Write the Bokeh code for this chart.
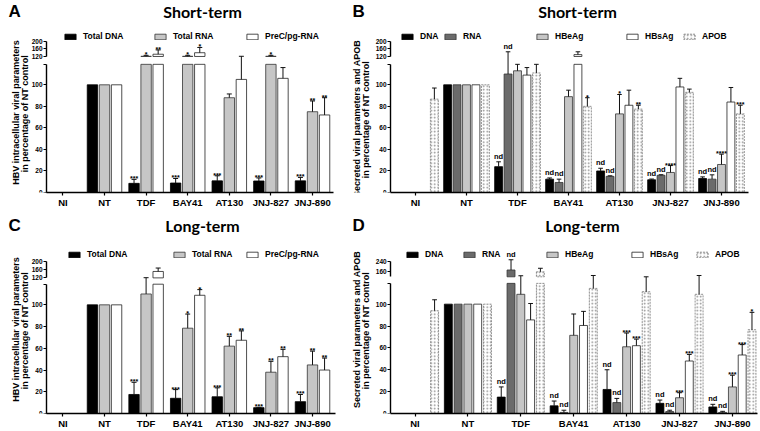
import numpy as np
from bokeh.plotting import figure
from bokeh.models import (Range1d, FixedTicker, CustomJSTickFormatter, Label,
                          Legend, LegendItem, LinearAxis)
from bokeh.layouts import column, row
from bokeh.embed import file_html
from bokeh.resources import INLINE
from bokeh.core.properties import value

categories = ["NI", "NT", "TDF", "BAY41", "AT130", "JNJ-827", "JNJ-890"]

# ---- Panel A : short-term, intracellular ----
a_names = ["Total DNA", "Total RNA", "PreC/pg-RNA"]
a_dna = [0, 100, 8.5, 8.8, 10.8, 10.7, 10.8]
a_dna_err = [0, 0, 12.2, 13.0, 15.5, 13.5, 14.0]
a_dna_sig = ["", "", "***", "***", "***", "***", "***"]
a_rna = [0, 100, 121, 121, 88, 121, 75]
a_rna_err = [0, 0, 126, 126, 91.5, 126, 85]
a_rna_sig = ["", "", "*", "*", "", "*", "**"]
a_pre = [0, 100, 132, 140, 105, 106, 72]
a_pre_err = [0, 0, 155, 168, 121, 116, 88]
a_pre_sig = ["", "", "**", "*", "", "", "**"]

# ---- Panel B : short-term, secreted ----
b_names = ["DNA", "RNA", "HBeAg", "HBsAg", "APOB"]
b_dna = [0, 100, 24, 12.4, 20, 11.8, 13]
b_dna_err = [0, 0, 28.5, 13.5, 22.5, 12.5, 14.5]
b_dna_sig = ["", "", "nd", "nd", "nd", "nd", "nd"]
b_rna = [0, 100, 110, 9.3, 15, 16, 12.4]
b_rna_err = [0, 0, 145, 12.4, 15.5, 16.5, 16.4]
b_rna_sig = ["", "", "nd", "nd", "nd", "nd", "nd"]
b_hbe = [0, 100, 113, 89, 73, 18.6, 26]
b_hbe_err = [0, 0, 119, 95, 91, 25, 35.6]
b_hbe_sig = ["", "", "", "", "*", "****", "****"]
b_hbs = [0, 100, 109, 130, 81, 98, 84]
b_hbs_err = [0, 0, 116, 145, 95, 106, 97.5]
b_hbs_sig = ["", "", "", "", "", "", ""]
b_apob = [86.7, 100, 111, 80, 77.4, 93, 73]
b_apob_err = [97, 0, 119, 88, 81, 96, 81]
b_apob_sig = ["", "", "", "*", "**", "", "***"]

# ---- Panel C : long-term, intracellular ----
c_dna = [0, 100, 17.5, 14, 15.4, 5.4, 10.9]
c_dna_err = [0, 0, 28.7, 22, 23.6, 5.6, 17.5]
c_dna_sig = ["", "", "***", "***", "***", "***", "***"]
c_rna = [0, 100, 110, 78.5, 62, 38, 44.7]
c_rna_err = [0, 0, 121, 91.5, 71, 48, 57.4]
c_rna_sig = ["", "", "", "*", "**", "**", "**"]
c_pre = [0, 100, 152, 108.8, 67.4, 52.3, 40]
c_pre_err = [0, 0, 169, 114, 76, 59, 51]
c_pre_sig = ["", "", "", "*", "**", "**", "**"]

# ---- Panel D : long-term, secreted ----
d_dna = [0, 100, 15, 7, 22, 9.3, 6]
d_dna_err = [0, 0, 24.3, 11.4, 40, 12.3, 8.4]
d_dna_sig = ["", "", "nd", "nd", "nd", "nd", "nd"]
d_rna = [0, 100, 172, 1, 10, 1.8, 1]
d_rna_err = [0, 0, 250, 3, 13.8, 3, 2]
d_rna_sig = ["", "", "nd", "nd", "nd", "nd", "nd"]
d_hbe = [0, 100, 109, 71.5, 61, 14.4, 24.3]
d_hbe_err = [0, 0, 128, 91, 73.6, 19, 35]
d_hbe_sig = ["", "", "", "", "***", "***", "***"]
d_hbs = [0, 100, 85.6, 80.5, 62, 48, 53.5]
d_hbs_err = [0, 0, 100.6, 93.4, 68, 54, 63]
d_hbs_sig = ["", "", "", "", "***", "***", "***"]
d_apob = [94, 100, 158, 114.4, 111.4, 109, 76.6]
d_apob_err = [104, 0, 185, 130, 120, 130, 92.5]
d_apob_sig = ["", "", "", "", "", "", "*"]

lower_ticks = [0, 20, 40, 60, 80, 100]
upper_ticks_abc = [120, 160, 200]
upper_ticks_d = [160, 240]

FR = "Liberation Sans"

ST_DNA = dict(fill_color="black", line_color="black")
ST_LG = dict(fill_color="#c6c6c6", line_color="#333333")
ST_WH = dict(fill_color="white", line_color="#222222")
ST_DG = dict(fill_color="#6b6b6b", line_color="#333333")
ST_AP = dict(fill_color="white", line_color="#777777", line_dash="2 1",
             hatch_pattern=".", hatch_color="#8a8a8a", hatch_scale=3.5, hatch_weight=1)


def brk(v, lim, u0, k):
    v = np.asarray(v, dtype=float)
    return np.where(v <= lim, v, np.where(v < 120, lim, u0 + (v - 120) * k))


def style_yaxis(ax):
    ax.axis_line_color = "black"
    ax.axis_line_width = 1.4
    ax.major_tick_out = 3
    ax.major_tick_in = 0
    ax.minor_tick_out = 0
    ax.minor_tick_in = 0
    ax.major_tick_line_width = 1.2
    ax.major_label_standoff = 1
    ax.major_label_text_font = FR
    ax.major_label_text_font_size = "6.5px"
    ax.major_label_text_font_style = "bold"
    ax.major_label_text_color = "black"


def build(cfg):
    lim, u0, k = cfg["brk"]
    B = lambda v: brk(v, lim, u0, k)
    p = figure(width=cfg["w"], height=cfg["h"], output_backend="svg",
               toolbar_location=None, title=None,
               x_range=Range1d(*cfg["xr"]), y_range=Range1d(0, cfg["ytop"]),
               min_border_left=0, min_border_right=0,
               min_border_top=0, min_border_bottom=cfg["bb"])
    p.outline_line_color = None
    p.xgrid.visible = False
    p.ygrid.visible = False
    p.background_fill_color = "white"
    p.border_fill_color = "white"

    idx = np.arange(len(categories), dtype=float)
    renderers = []
    for j, (vals, errs, sigs) in enumerate(cfg["series"]):
        st = cfg["styles"][j]
        xs = idx + cfg["offs"][j]
        v = np.asarray(vals, dtype=float)
        r = p.vbar(x=xs, bottom=0, top=np.minimum(v, lim), width=cfg["bw"],
                   line_width=0.8, **st)
        renderers.append(r)
        up = v > 120
        if up.any():
            p.vbar(x=xs[up], bottom=u0, top=B(v[up]), width=cfg["bw"],
                   line_width=0.8, **st)
        e = np.asarray(errs, dtype=float)
        has = e > v
        if has.any():
            p.segment(x0=xs[has], y0=B(v[has]), x1=xs[has], y1=B(e[has]),
                      line_color="#111111", line_width=1)
            p.segment(x0=xs[has] - cfg["cw"], y0=B(e[has]),
                      x1=xs[has] + cfg["cw"], y1=B(e[has]),
                      line_color="#111111", line_width=1)
        tops = np.where(has, B(e), B(v))
        sig = np.array(sigs, dtype=object)
        stars = np.array([s not in ("", "nd") for s in sigs])
        nds = np.array([s == "nd" for s in sigs])
        if stars.any():
            p.text(x=xs[stars], y=tops[stars], text=list(sig[stars]),
                   text_align="center", text_baseline="bottom", y_offset=3,
                   text_font=value(FR), text_font_size="7px",
                   text_font_style="bold", text_color="black")
        if nds.any():
            p.text(x=xs[nds], y=tops[nds], text=list(sig[nds]),
                   text_align="center", text_baseline="bottom", y_offset=-1,
                   text_font=value(FR), text_font_size="7.5px",
                   text_font_style="bold", text_color="black")

    xa = cfg["yaxis_x"]
    # x axis (line limited to the plotted span)
    xax = p.xaxis[0]
    xax.bounds = (xa, cfg["xend"])
    xax.ticker = FixedTicker(ticks=list(range(len(categories))))
    xax.formatter = CustomJSTickFormatter(
        args=dict(cats=categories), code="return cats[Math.round(tick)] || '';")
    xax.axis_line_width = 1.4
    xax.axis_line_color = "black"
    xax.major_tick_out = 3
    xax.major_tick_in = 0
    xax.minor_tick_out = 0
    xax.minor_tick_in = 0
    xax.major_tick_line_width = 1.2
    xax.major_label_standoff = 1
    xax.major_label_text_font = FR
    xax.major_label_text_font_size = "9.5px"
    xax.major_label_text_font_style = "bold"
    xax.major_label_text_color = "black"

    # broken y axis: lower and upper segments
    yl = p.yaxis[0]
    yl.fixed_location = xa
    yl.bounds = (0, lim)
    yl.ticker = FixedTicker(ticks=[float(t) for t in lower_ticks] + [float(lim)])
    yl.formatter = CustomJSTickFormatter(
        args=dict(lim=lim),
        code="return tick >= lim - 0.01 ? '' : tick.toFixed(0);")
    style_yaxis(yl)
    yu = LinearAxis(fixed_location=xa, bounds=(u0, float(B(cfg["uticks"][-1]))))
    yu.ticker = FixedTicker(ticks=[float(t) for t in B(cfg["uticks"])])
    yu.formatter = CustomJSTickFormatter(
        args=dict(u0=u0, k=k), code="return (120 + (tick - u0) / k).toFixed(0);")
    style_yaxis(yu)
    p.add_layout(yu, "left")

    # y label (two lines, rotated)
    for txt, dx in zip(cfg["ylabel"], cfg["ylx"]):
        p.add_layout(Label(x=dx, y=cfg["yly"], x_units="screen", y_units="screen",
                           text=txt, angle=np.pi / 2, text_align="center",
                           text_baseline="middle", text_font=FR,
                           text_font_size="9px", text_font_style="bold",
                           text_color="black"))
    # title & panel letter
    p.add_layout(Label(x=cfg["tx"], y=cfg["ty"], x_units="screen", y_units="screen",
                       text=cfg["title"], text_align="center", text_baseline="middle",
                       text_font="Lato", text_font_size="16px",
                       text_font_style="bold", text_color="black"))
    p.add_layout(Label(x=cfg["lx"], y=cfg["ty"], x_units="screen", y_units="screen",
                       text=cfg["letter"], text_align="left", text_baseline="middle",
                       text_font=FR, text_font_size="17px",
                       text_font_style="bold", text_color="black"))
    # legend, one item per box so each sits where the reference puts it
    for name, r, lx in zip(cfg["names"], renderers, cfg["lgx"]):
        lg = Legend(items=[LegendItem(label=name, renderers=[r])],
                    location=(lx, cfg["lgy"]), orientation="horizontal",
                    glyph_width=14, glyph_height=7, label_standoff=6,
                    padding=0, margin=0, spacing=0, label_height=9,
                    border_line_color=None, background_fill_alpha=0,
                    label_text_font=FR, label_text_font_size="8.5px",
                    label_text_font_style="bold", label_text_color="black")
        p.add_layout(lg)
    return p


off3 = [-0.29, 0.0, 0.29]
off5 = [-0.37, -0.185, 0.0, 0.185, 0.37]

pA = build(dict(
    w=345, h=214, bb=22, xr=(-1.5, 6.793), ytop=192 / 1.077,
    yaxis_x=-0.394, xend=6.51,
    brk=(119, 126.3, 0.174), uticks=upper_ticks_abc,
    series=[(a_dna, a_dna_err, a_dna_sig), (a_rna, a_rna_err, a_rna_sig),
            (a_pre, a_pre_err, a_pre_sig)],
    styles=[ST_DNA, ST_LG, ST_WH], offs=off3, bw=0.25, cw=0.06,
    names=a_names, lgx=[63, 153, 245], lgy=151,
    ylabel=["HBV intracellular viral parameters", "in percentage of  NT control"],
    ylx=[15.5, 24.5], yly=80, title="Short-term", letter="A", lx=8, tx=202, ty=181))

pB = build(dict(
    w=415, h=214, bb=22, xr=(-1.3725, 6.765), ytop=192 / 1.077,
    yaxis_x=-0.49, xend=6.53,
    brk=(119, 126.3, 0.174), uticks=upper_ticks_abc,
    series=[(b_dna, b_dna_err, b_dna_sig), (b_rna, b_rna_err, b_rna_sig),
            (b_hbe, b_hbe_err, b_hbe_sig), (b_hbs, b_hbs_err, b_hbs_sig),
            (b_apob, b_apob_err, b_apob_sig)],
    styles=[ST_DNA, ST_DG, ST_LG, ST_WH, ST_AP], offs=off5, bw=0.155, cw=0.045,
    names=b_names, lgx=[55, 98, 190, 280, 337], lgy=151,
    ylabel=["Secreted viral parameters and APOB", "in percentage of  NT control"],
    ylx=[11, 20], yly=74, title="Short-term", letter="B", lx=7, tx=232, ty=181))

pC = build(dict(
    w=345, h=217, bb=15, xr=(-1.5, 6.793), ytop=202 / 1.103,
    yaxis_x=-0.394, xend=6.55,
    brk=(119, 124.8, 0.185), uticks=upper_ticks_abc,
    series=[(c_dna, c_dna_err, c_dna_sig), (c_rna, c_rna_err, c_rna_sig),
            (c_pre, c_pre_err, c_pre_sig)],
    styles=[ST_DNA, ST_LG, ST_WH], offs=off3, bw=0.25, cw=0.06,
    names=a_names, lgx=[67, 172, 245], lgy=154,
    ylabel=["HBV intracellular viral parameters", "in percentage of  NT control"],
    ylx=[15.5, 24.5], yly=84, title="Long-term", letter="C", lx=8, tx=202, ty=188))

pD = build(dict(
    w=415, h=217, bb=15, xr=(-1.314, 6.531), ytop=202 / 1.11,
    yaxis_x=-0.46, xend=6.475,
    brk=(119, 125, 0.12), uticks=upper_ticks_d,
    series=[(d_dna, d_dna_err, d_dna_sig), (d_rna, d_rna_err, d_rna_sig),
            (d_hbe, d_hbe_err, d_hbe_sig), (d_hbs, d_hbs_err, d_hbs_sig),
            (d_apob, d_apob_err, d_apob_sig)],
    styles=[ST_DNA, ST_DG, ST_LG, ST_WH, ST_AP], offs=off5, bw=0.15, cw=0.045,
    names=b_names, lgx=[60, 117, 200, 285, 350], lgy=154,
    ylabel=["Secreted viral parameters and APOB", "in percentage of  NT control"],
    ylx=[11, 20], yly=84, title="Long-term", letter="D", lx=7, tx=237, ty=188))

layout = column(row(pA, pB), row(pC, pD))
open("out.html", "w").write(file_html(layout, INLINE))
